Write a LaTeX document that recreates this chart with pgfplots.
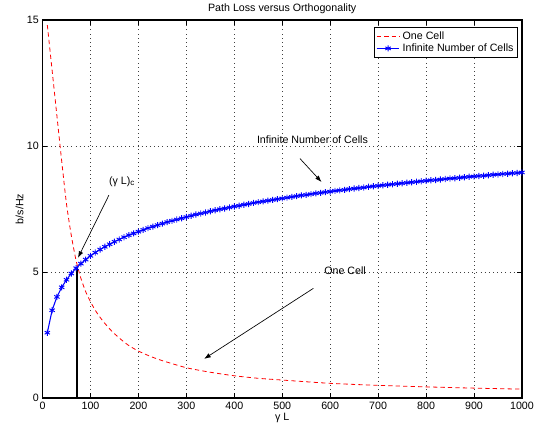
\documentclass[border=0pt]{standalone}
\usepackage{fontspec}
\setmainfont{Liberation Sans}
\usepackage{pgfplots}
\pgfplotsset{compat=1.18}
\usetikzlibrary{arrows.meta}

\begin{document}
\begin{tikzpicture}
\fontsize{8}{9.5}\selectfont
\useasboundingbox (-31.9pt,-23.25pt) rectangle (372.4pt,298.5pt);
\begin{axis}[
    at={(0,0)}, anchor=south west,
    scale only axis,
    width=359.6pt, height=283.5pt,
    xmin=0, xmax=1000, ymin=0, ymax=15,
    xtick={0,100,...,1000}, ytick={0,5,10,15},
    tick align=inside, tick pos=both,
    major tick length=3.5pt,
    axis line style={line width=0.9pt},
    every tick/.style={black, line width=0.6pt},
    grid=major,
    major grid style={black!75, line width=0.45pt, dash pattern=on 0.5pt off 2.6pt},
    /pgf/number format/assume math mode=true,
    /pgf/number format/1000 sep={},
    tick label style={font=\fontsize{8}{9.5}\selectfont},
    title={Path Loss versus Orthogonality},
    title style={font=\fontsize{8}{9.5}\selectfont, yshift=-4.5pt},
    xlabel={γ L}, ylabel={b/s/Hz},
    label style={font=\fontsize{8}{9.5}\selectfont},
    xlabel style={yshift=2.5pt},
    ylabel style={yshift=-3pt},
    legend style={at={(0.9917,0.9815)}, anchor=north east,
      draw=black, line width=0.7pt, font=\fontsize{8}{9.5}\selectfont,
      inner sep=1pt, row sep=-1.8pt, cells={anchor=west}},
    legend cell align=left,
  ]
  \addplot[red, line width=0.6pt, dash pattern=on 3.2pt off 2.4pt, smooth, tension=0.4] coordinates {
    (10,14.8) (20,13.0) (30,11.2) (40,9.4) (50,7.7) (60,6.45) (70,5.45)
    (80,4.75) (90,4.22) (100,3.82) (110,3.48) (120,3.2) (130,2.96) (140,2.74)
    (150,2.55) (165,2.3) (180,2.08) (200,1.86) (225,1.65) (250,1.48)
    (300,1.2) (350,1.02) (400,0.88) (450,0.78) (500,0.71) (600,0.58)
    (700,0.5) (800,0.44) (900,0.39) (1000,0.35)
  };
  \addlegendentry{One Cell}
  \addplot[blue, line width=0.8pt, mark=asterisk, mark size=2.3pt,
    mark options={line width=0.7pt}] coordinates {
    (10,2.59) (20,3.48) (30,4.01) (40,4.39) (50,4.69) (60,4.94) (70,5.15) (80,5.33) (90,5.49) (100,5.64)
    (110,5.77) (120,5.89) (130,6.00) (140,6.10) (150,6.20) (160,6.29) (170,6.38) (180,6.46) (190,6.53) (200,6.60)
    (210,6.67) (220,6.74) (230,6.80) (240,6.86) (250,6.92) (260,6.98) (270,7.03) (280,7.08) (290,7.13) (300,7.18)
    (310,7.23) (320,7.28) (330,7.32) (340,7.36) (350,7.41) (360,7.45) (370,7.49) (380,7.52) (390,7.56) (400,7.60)
    (410,7.63) (420,7.67) (430,7.70) (440,7.74) (450,7.77) (460,7.80) (470,7.83) (480,7.86) (490,7.89) (500,7.92)
    (510,7.95) (520,7.98) (530,8.01) (540,8.04) (550,8.06) (560,8.09) (570,8.12) (580,8.14) (590,8.17) (600,8.19)
    (610,8.22) (620,8.24) (630,8.26) (640,8.29) (650,8.31) (660,8.33) (670,8.35) (680,8.38) (690,8.40) (700,8.42)
    (710,8.44) (720,8.46) (730,8.48) (740,8.50) (750,8.52) (760,8.54) (770,8.56) (780,8.58) (790,8.60) (800,8.62)
    (810,8.64) (820,8.65) (830,8.67) (840,8.69) (850,8.71) (860,8.72) (870,8.74) (880,8.76) (890,8.78) (900,8.79)
    (910,8.81) (920,8.82) (930,8.84) (940,8.86) (950,8.87) (960,8.89) (970,8.90) (980,8.92) (990,8.93) (1000,8.95)
  };
  \addlegendentry{Infinite Number of Cells}
  % critical point marker line
  \addplot[black, line width=1.3pt, forget plot] coordinates {(72.6,0) (72.6,5.18)};

  \draw[-{Latex[length=5pt,width=3.5pt]}, line width=0.5pt] (axis cs:537,9.5) -- (axis cs:582,8.57);
  \node[font=\fontsize{8}{9.5}\selectfont] at (axis cs:563,10.25) {Infinite Number of Cells};
  \draw[-{Latex[length=5pt,width=3.5pt]}, line width=0.5pt] (axis cs:138.5,8.05) -- (axis cs:74,5.56);
  \node[font=\fontsize{8}{9.5}\selectfont] at (axis cs:166,8.6) {(γ L)\textsubscript{c}};
  \draw[-{Latex[length=5pt,width=3.5pt]}, line width=0.5pt] (axis cs:565,4.35) -- (axis cs:337,1.55);
  \node[font=\fontsize{8}{9.5}\selectfont] at (axis cs:631,5.05) {One Cell};
\end{axis}
\end{tikzpicture}
\end{document}
